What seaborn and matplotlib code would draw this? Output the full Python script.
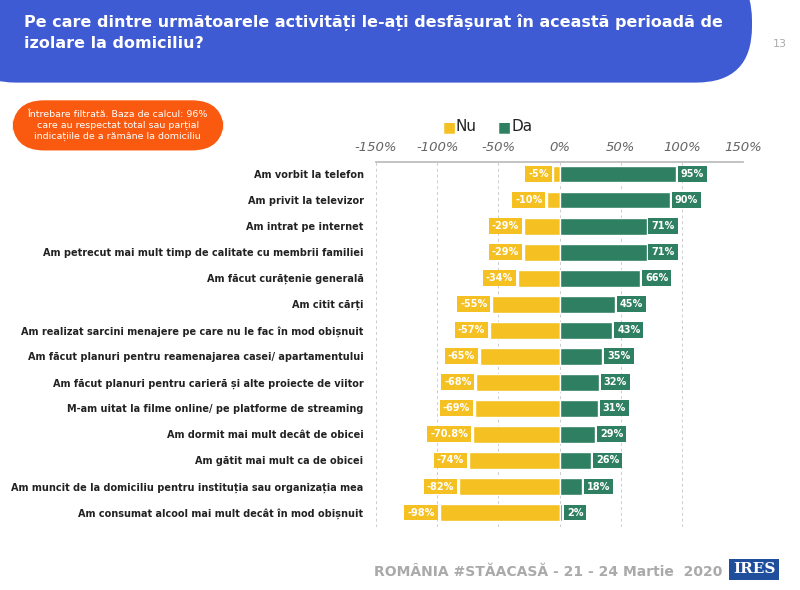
import matplotlib
matplotlib.use("Agg")
import matplotlib.pyplot as plt
import seaborn as sns
import pandas as pd
from matplotlib.patches import FancyBboxPatch

categories = ["Am vorbit la telefon", "Am privit la televizor", "Am intrat pe internet",
    "Am petrecut mai mult timp de calitate cu membrii familiei", "Am făcut curățenie generală",
    "Am citit cărți", "Am realizat sarcini menajere pe care nu le fac în mod obișnuit",
    "Am făcut planuri pentru reamenajarea casei/ apartamentului",
    "Am făcut planuri pentru carieră și alte proiecte de viitor",
    "M-am uitat la filme online/ pe platforme de streaming", "Am dormit mai mult decât de obicei",
    "Am gătit mai mult ca de obicei", "Am muncit de la domiciliu pentru instituția sau organizația mea",
    "Am consumat alcool mai mult decât în mod obișnuit"]
nu = [-5, -10, -29, -29, -34, -55, -57, -65, -68, -69, -70.8, -74, -82, -98]
nu_labels = ["-5%", "-10%", "-29%", "-29%", "-34%", "-55%", "-57%", "-65%", "-68%", "-69%", "-70.8%", "-74%", "-82%", "-98%"]
da = [95, 90, 71, 71, 66, 45, 43, 35, 32, 31, 29, 26, 18, 2]
ticks = [-150, -100, -50, 0, 50, 100, 150]

YEL = "#f5c021"; GRN = "#2f7f62"
sns.set_theme(style="white")
plt.rcParams['font.family'] = ['DejaVu Sans']

fig = plt.figure(figsize=(8, 5.9), dpi=100)
fig.patch.set_facecolor("white")
ax = fig.add_axes([0.47, 0.107, 0.459, 0.618])
df = pd.DataFrame({"cat": categories, "nu": nu, "da": da})
sns.barplot(data=df, y="cat", x="nu", color=YEL, width=0.65, ax=ax, orient="h", saturation=1)
sns.barplot(data=df, y="cat", x="da", color=GRN, width=0.65, ax=ax, orient="h", saturation=1)
ax.set_xlim(-150, 150)
ax.set_ylim(len(categories) - 0.45, -0.45)
ax.set_xticks(ticks)
ax.set_xticklabels([f"{t}%" for t in ticks], fontsize=9.5, color="#666666", style="italic")
ax.xaxis.tick_top()
ax.tick_params(axis="x", length=0, pad=6)
ax.tick_params(axis="y", length=0, pad=9)
ax.set_yticks(range(len(categories)))
ax.set_yticklabels(categories, fontsize=7, fontweight="bold", color="#222222")
ax.set_xlabel(""); ax.set_ylabel("")
for s in ["right", "bottom", "left"]:
    ax.spines[s].set_visible(False)
ax.spines["top"].set_color("#bbbbbb")
for t in ticks:
    ax.axvline(t, color="#cccccc", lw=0.7, ls=(0, (3, 3)), zorder=0)
for i in range(len(categories)):
    ax.text(da[i] + 4, i, f"{da[i]}%", ha="left", va="center", fontsize=7, fontweight="bold",
            color="white", bbox=dict(boxstyle="square,pad=0.3", fc=GRN, ec="none"))
    ax.text(nu[i] - 4, i, nu_labels[i], ha="right", va="center", fontsize=7, fontweight="bold",
            color="white", bbox=dict(boxstyle="square,pad=0.3", fc=YEL, ec="none"))

# legend
fig.text(0.553, 0.785, "■", color=YEL, fontsize=10, ha="left", va="center")
fig.text(0.57, 0.785, "Nu", color="#222222", fontsize=11, ha="left", va="center")
fig.text(0.622, 0.785, "■", color=GRN, fontsize=10, ha="left", va="center")
fig.text(0.639, 0.785, "Da", color="#222222", fontsize=11, ha="left", va="center")

# banner
ban = FancyBboxPatch((-0.05, 0.86), 0.99, 0.2, boxstyle="round,pad=0,rounding_size=0.07",
                     transform=fig.transFigure, fc="#3f5bd3", ec="none", mutation_aspect=1.36)
fig.patches.append(ban)
fig.text(0.03, 0.945, "Pe care dintre următoarele activități le-ați desfășurat în această perioadă de\nizolare la domiciliu?",
         color="white", fontsize=11.5, fontweight="bold", ha="left", va="center", linespacing=1.4)
fig.text(0.975, 0.925, "13", color="#aaaaaa", fontsize=8, ha="center", va="center")

# orange note
note = FancyBboxPatch((0.015, 0.745), 0.265, 0.085, boxstyle="round,pad=0,rounding_size=0.04",
                      transform=fig.transFigure, fc="#fa5a0f", ec="none", mutation_aspect=1.36)
fig.patches.append(note)
fig.text(0.147, 0.787, "Întrebare filtrată. Baza de calcul: 96%\ncare au respectat total sau parțial\nindicațiile de a rămâne la domiciliu",
         color="white", fontsize=6.8, ha="center", va="center", linespacing=1.3)

fig.text(0.685, 0.03, "ROMÂNIA #STĂACASĂ - 21 - 24 Martie  2020", color="#aaaaaa", fontsize=10,
         fontweight="bold", ha="center", va="center")
fig.text(0.943, 0.035, "IRES", color="white", fontsize=11, fontweight="bold", family="DejaVu Serif",
         ha="center", va="center", bbox=dict(boxstyle="square,pad=0.25", fc="#1f4e9c", ec="none"))
fig.savefig("out.png", dpi=100, facecolor="white")
